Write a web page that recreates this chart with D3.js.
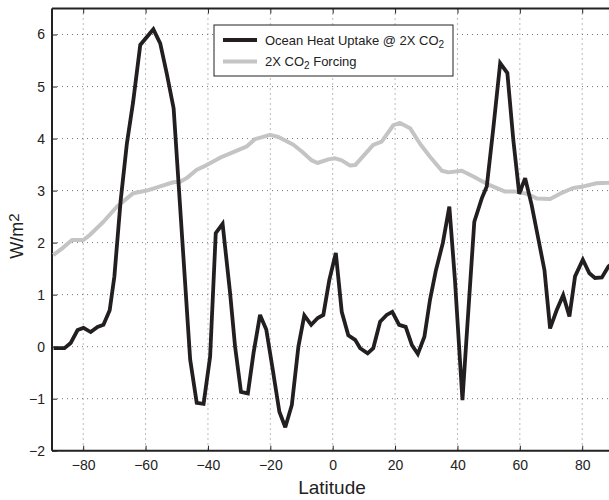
<!DOCTYPE html>
<html><head><meta charset="utf-8">
<script src="https://cdn.jsdelivr.net/npm/d3@7"></script>
<style>
body{margin:0;background:#fff;}
svg{display:block;overflow:hidden;font-family:"Liberation Sans",Arial,sans-serif;}
</style></head>
<body>
<svg id="chart" width="609" height="500"></svg>
<script>
// Ocean heat uptake @ 2X CO2 (black)
const ohuLat = [-89.5,-86,-84,-81.8,-79.9,-77.6,-75.4,-73.5,-71.5,-70,-68,-66,-64,-61.7,-57.5,-55.3,-53.2,-51,-45.7,-43.6,-41.4,-39.3,-37.5,-35.3,-32.9,-31.3,-29.4,-27.2,-25.4,-23.3,-21.3,-19.2,-17.1,-15.2,-13.1,-11.0,-9.1,-6.9,-4.8,-3.0,-1.1,1.0,2.9,5.0,7.2,8.8,11.2,13.0,15.2,17.3,19.1,21.3,23.4,25.4,27.3,29.4,31.2,33.1,35.3,37.4,39.2,41.6,42.8,45.4,47.8,49.4,51.5,53.7,56.0,57.9,59.8,61.7,63.8,66.0,67.9,69.7,71.8,73.9,75.9,77.7,80.2,82.3,84.1,86.3,88.4,90];
const ohuVal = [-0.03,-0.03,0.07,0.32,0.36,0.28,0.38,0.42,0.70,1.35,2.8,3.9,4.7,5.8,6.1,5.83,5.25,4.58,-0.25,-1.08,-1.10,-0.19,2.18,2.36,1.03,0.0,-0.87,-0.90,-0.13,0.61,0.33,-0.45,-1.25,-1.55,-1.12,0.0,0.60,0.42,0.55,0.61,1.28,1.80,0.67,0.22,0.13,-0.03,-0.13,-0.03,0.48,0.61,0.67,0.42,0.38,0.03,-0.14,0.19,0.90,1.47,1.99,2.69,1.28,-1.03,0.07,2.40,2.85,3.08,4.2,5.45,5.26,3.98,2.94,3.24,2.72,2.05,1.47,0.35,0.70,0.99,0.58,1.35,1.67,1.41,1.32,1.33,1.54,1.62];
// 2X CO2 forcing (gray)
const frcLat = [-89.6,-86.5,-83.6,-79.9,-77.8,-73.5,-69.2,-66,-63.9,-59.6,-55.3,-51.1,-48.9,-46.8,-43.6,-40.4,-35.5,-33.4,-27.5,-24.9,-20.1,-17.4,-12.6,-9.9,-6.7,-4.9,-1.4,0.8,2.9,5.6,7.2,13.0,15.7,19.5,21.6,24.8,28.0,31.2,35.0,37.1,41.4,45.1,49.4,55.3,58.5,62.2,65.4,69.7,72.9,77.1,80.4,84.6,88.4,90];
const frcVal = [1.76,1.9,2.05,2.05,2.15,2.40,2.69,2.85,2.95,3.00,3.08,3.16,3.17,3.24,3.40,3.49,3.65,3.70,3.85,3.99,4.07,4.03,3.88,3.75,3.58,3.53,3.60,3.62,3.58,3.48,3.49,3.88,3.94,4.26,4.30,4.20,3.90,3.65,3.38,3.35,3.38,3.27,3.13,2.98,2.98,2.94,2.85,2.84,2.94,3.05,3.08,3.14,3.15,3.16];
const xTicks = [-80,-60,-40,-20,0,20,40,60,80];
const yTicks = [-2,-1,0,1,2,3,4,5,6];

const svg = d3.select("#chart");
const L = 52, R = 613.4, T = 8.5, B = 450.7;
const x = d3.scaleLinear().domain([-90,90]).range([L,R]);
const y = d3.scaleLinear().domain([-2,6.5]).range([B,T]);

const defs = svg.append("defs");
defs.append("clipPath").attr("id","clip").append("rect")
  .attr("x",L).attr("y",T).attr("width",R-L).attr("height",B-T);

// grid
const grid = svg.append("g").attr("stroke","#777").attr("stroke-width",1).attr("stroke-dasharray","1,4");
grid.selectAll("line.gx").data(xTicks).join("line")
  .attr("x1",d=>x(d)).attr("x2",d=>x(d)).attr("y1",T).attr("y2",B);
grid.selectAll("line.gy").data(yTicks).join("line")
  .attr("y1",d=>y(d)).attr("y2",d=>y(d)).attr("x1",L).attr("x2",R);

// axes
const fs = "14px";
const xAx = svg.append("g").attr("transform",`translate(0,${B})`)
  .call(d3.axisBottom(x).tickValues(xTicks).tickSize(-5).tickPadding(9).tickFormat(d=>d<0?"\u2212"+Math.abs(d):d));
const xAxTop = svg.append("g").attr("transform",`translate(0,${T})`)
  .call(d3.axisTop(x).tickValues(xTicks).tickSize(-5).tickFormat(""));
const yAx = svg.append("g").attr("transform",`translate(${L},0)`)
  .call(d3.axisLeft(y).tickValues(yTicks).tickSize(-5).tickPadding(7).tickFormat(d=>d<0?"\u2212"+Math.abs(d):d));
[xAx,xAxTop,yAx].forEach(g=>{
  g.select(".domain").remove();
  g.selectAll(".tick line").attr("stroke","#222").attr("stroke-width",1);
  g.selectAll("text").attr("font-size",fs).attr("fill","#222").attr("font-family","Liberation Sans, Arial, sans-serif");
});
// frame
svg.append("line").attr("x1",L).attr("x2",R).attr("y1",B).attr("y2",B).attr("stroke","#222").attr("stroke-width",2);
svg.append("line").attr("x1",L).attr("x2",R).attr("y1",T).attr("y2",T).attr("stroke","#222").attr("stroke-width",2);
svg.append("line").attr("x1",L).attr("x2",L).attr("y1",T).attr("y2",B).attr("stroke","#222").attr("stroke-width",2);

// lines
const plot = svg.append("g").attr("clip-path","url(#clip)");
const line = d3.line().x(d=>x(d[0])).y(d=>y(d[1]));
plot.append("path").datum(frcLat.map((d,i)=>[d,frcVal[i]]))
  .attr("d",line).attr("fill","none").attr("stroke","#c4c4c4").attr("stroke-width",4).attr("stroke-linejoin","round");
plot.append("path").datum(ohuLat.map((d,i)=>[d,ohuVal[i]]))
  .attr("d",line).attr("fill","none").attr("stroke","#231f20").attr("stroke-width",3.8).attr("stroke-linejoin","miter").attr("stroke-miterlimit",3);

// legend
const lg = svg.append("g");
lg.append("rect").attr("x",214).attr("y",25).attr("width",239).attr("height",51)
  .attr("fill","#fff").attr("stroke","#222").attr("stroke-width",1);
lg.append("line").attr("x1",223).attr("x2",257).attr("y1",40).attr("y2",40).attr("stroke","#231f20").attr("stroke-width",4);
lg.append("line").attr("x1",223).attr("x2",257).attr("y1",61.5).attr("y2",61.5).attr("stroke","#c4c4c4").attr("stroke-width",4);
const t1 = lg.append("text").attr("x",265).attr("y",44.5).attr("font-size","13px").attr("fill","#222");
t1.append("tspan").text("Ocean Heat Uptake @ 2X CO");
t1.append("tspan").attr("dy",3).attr("font-size","10px").text("2");
const t2 = lg.append("text").attr("x",265).attr("y",66).attr("font-size","13px").attr("fill","#222");
t2.append("tspan").text("2X CO");
t2.append("tspan").attr("dy",3).attr("font-size","10px").text("2");
t2.append("tspan").attr("dy",-3).text(" Forcing");

// axis labels
svg.append("text").attr("x",332).attr("y",494).attr("text-anchor","middle")
  .attr("font-size","19px").attr("fill","#222").text("Latitude");
const yl = svg.append("text").attr("transform","translate(23,236) rotate(-90)").attr("text-anchor","middle")
  .attr("font-size","18px").attr("fill","#222");
yl.append("tspan").text("W/m");
yl.append("tspan").attr("dy",-4).attr("font-size","15px").text("2");
</script>
</body></html>
